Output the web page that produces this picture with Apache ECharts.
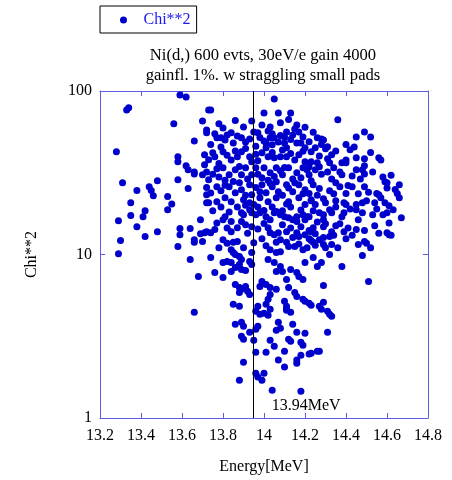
<!DOCTYPE html>
<html><head><meta charset="utf-8">
<script src="https://cdn.jsdelivr.net/npm/echarts@6/dist/echarts.min.js"></script>
<style>html,body{margin:0;padding:0;background:#fff}#c{width:452px;height:480px}</style>
</head><body><div id="c"></div>
<script>
const titleLines = ['Ni(d,) 600 evts, 30eV/e gain 4000', 'gainfl. 1%. w straggling small pads'];
const seriesName = 'Chi**2';
const xName = 'Energy[MeV]';
const yName = 'Chi**2';
const xMin = 13.2, xMax = 14.8, xStep = 0.2;
const yMin = 1, yMax = 100;
const markerEnergy = 13.95;
const markerLabel = '13.94MeV';

// [energy MeV, chi2]
const pointsLeft = [
[13.28,42.5],[13.34,79],[13.33,76.6],[13.29,16.1],[13.29,10.1],[13.30,12.2],[13.31,27.5],[13.35,17.3],[13.35,20.7],[13.38,14.8],
[13.38,24.6],[13.41,17.0],[13.42,18.5],[13.42,12.9],[13.44,26.0],[13.45,24.6],[13.46,22.9],[13.48,28.3],[13.48,13.8],[13.53,22.6],
[13.53,18.8],[13.55,20.4],[13.56,63],[13.58,39.6],[13.58,36.9],[13.58,28.7],[13.59,14.4],[13.59,13.2],[13.58,11.2],[13.59,94.5],
[13.62,92],[13.62,34.9],[13.63,33.0],[13.66,32.0],[13.66,31.1],[13.63,25.3],[13.64,14.4],[13.64,9.32],[13.66,12.3],[13.66,11.9],
[13.66,49.5],[13.66,4.43],[13.68,7.34],[13.70,65.6],[13.73,76.6],[13.72,57.8],[13.72,55.5],[13.71,40.7],[13.72,25.7],[13.72,23.2],
[13.69,13.4],[13.71,13.6],[13.72,13.8],[13.70,12.0],[13.69,16.3],[13.72,20.7]
];
const pointsUpperMid = [
[14.05,89.5],[13.74,76.6],[14.00,73.4],[14.07,73.4],[14.13,73.4],[13.94,65.6],[13.80,59.3],[13.90,60.3],[14.03,60.3],[14.02,57.0],
[14.04,54.7],[14.05,51.7],[14.03,51.7],[14.16,62],[14.15,58.6],[14.17,56.2],[14.14,53.9],[14.11,56.2],[14.19,52.4],[14.10,52.4],
[13.76,54.7],[13.77,51.7],[13.79,51.7],[13.81,50.2],[13.82,53.9],[13.84,55.5],[13.89,51.7],[13.91,48.8],[13.93,50.9],[13.95,56.2],
[13.97,55.5],[14.01,48.1],[14.04,46.9],[14.07,48.8],[14.10,48.1],[14.11,45.0],[14.16,48.1],[14.18,48.1],[14.20,45.0],[14.26,51.7],
[14.23,42.5],[13.75,41.9],[13.76,39.6],[13.80,42.5],[13.84,37.9],[13.87,39.6],[13.89,42.5],[13.93,39.6],[13.94,36.9],[13.99,41.9],
[14.01,45.0],[14.02,39.6],[14.05,39.1],[14.08,39.6],[14.11,39.6],[14.15,37.9],[14.17,40.7],[14.20,36.9],[14.23,36.9],[13.71,35.4],
[13.72,32.0],[13.70,30.7],[13.73,28.7],[13.78,29.8],[13.80,33.9],[13.83,30.7],[13.86,33.0],[13.89,30.7],[13.91,33.9],[13.94,30.7],
[13.96,33.9],[14.00,33.9],[14.03,31.6],[14.06,33.9],[14.09,30.7],[14.12,33.9],[14.16,31.6],[14.19,33.9],[14.22,30.7],[14.25,33.0],
[13.77,26.0],[13.83,26.0],[13.86,23.9],[13.89,24.9],[13.93,26.7],[13.94,23.2],[13.96,25.7],[13.99,26.7],[14.01,23.9],[14.04,26.0],
[14.06,27.9],[14.07,24.2],[14.11,26.7],[14.14,24.2],[14.17,26.7],[14.20,24.9],[14.24,26.7],[13.77,21.0],[13.81,22.2],[13.84,21.0],
[13.90,21.6],[13.93,20.7],[13.98,22.2],[14.02,21.0],[14.06,22.2],[14.12,21.0],[14.17,22.2],[14.23,21.6]
];
const pointsUpperRight = [
[14.36,66.6],[14.45,52.4],[14.49,56.2],[14.52,52.4],[14.28,50.9],[14.29,50.2],[14.25,45.0],[14.31,45.6],[14.30,44.3],[14.42,43.7],
[14.33,40.7],[14.45,39.1],[14.49,38.5],[14.56,39.1],[14.57,37.9],[14.22,34.4],[14.26,36.4],[14.27,34.4],[14.32,36.4],[14.34,33.9],
[14.31,32.0],[14.38,36.4],[14.40,37.9],[14.40,36.4],[14.49,34.9],[14.48,33.0],[14.37,32.0],[14.38,30.7],[14.43,30.2],[14.47,29.0],
[14.49,31.1],[14.58,29.8],[14.59,27.9],[14.60,27.5],[14.66,26.7],[14.23,28.3],[14.27,25.3],[14.37,26.0],[14.41,26.4],[14.43,26.0],
[14.49,26.0],[14.40,23.6],[14.55,23.6],[14.56,23.2],[14.57,22.2],[14.65,23.6],[14.66,22.2],[14.22,23.6],[14.23,21.3],[14.29,21.9],
[14.30,20.7],[14.35,21.3],[14.39,20.7],[14.45,20.2],[14.48,20.7],[14.50,21.3],[14.54,20.7],[14.59,20.7],[14.61,19.9],[14.25,20.2],
[14.40,20.2]
];
const pointsLowerRight = [
[14.27,18.0],[14.29,17.5],[14.32,18.8],[14.33,18.0],[14.39,18.0],[14.38,17.0],[14.45,18.8],[14.53,17.5],[14.58,17.5],[14.60,18.0],
[14.63,18.8],[14.67,16.8],[14.22,17.0],[14.29,16.3],[14.30,15.4],[14.37,15.4],[14.46,16.3],[14.61,15.6],[14.22,14.0],[14.23,13.8],
[14.25,13.4],[14.29,14.8],[14.33,13.8],[14.34,13.1],[14.32,12.9],[14.39,13.8],[14.43,13.1],[14.45,14.2],[14.54,15.0],[14.60,13.6],
[14.61,13.2],[14.62,13.1],[14.22,12.5],[14.23,12.2],[14.29,12.7],[14.29,11.5],[14.30,11.0],[14.33,11.5],[14.25,11.4],[14.49,12.0],
[14.50,11.7],[14.52,11.0],[14.24,9.6],[14.28,8.94],[14.32,10.0],[14.38,8.45],[14.48,9.86],[14.51,6.84],[14.29,6.47],[14.22,5.03],
[14.23,4.89],[14.27,4.82],[14.28,4.62],[14.29,5.10],[14.31,4.49],[14.32,4.31],[14.33,4.19],[14.31,3.35],[14.27,2.56],[14.23,2.49]
];
const pointsCenter = [
[13.73,20.7],[13.95,20.2],[14.11,20.4],[14.20,20.2],[13.77,15.6],[13.80,16.3],[13.81,17.0],[13.84,15.9],[13.89,18.0],[13.90,17.5],
[13.93,18.8],[13.94,18.0],[13.96,17.5],[13.98,18.0],[14.01,17.0],[14.03,16.3],[14.05,18.0],[14.06,18.3],[14.08,17.5],[14.10,17.0],
[14.12,16.8],[14.14,16.3],[14.16,15.9],[14.16,17.0],[14.19,17.5],[14.20,16.3],[14.21,17.0],[13.89,15.9],[13.91,15.2],[13.94,14.8],
[14.02,14.6],[14.03,13.6],[14.05,13.2],[14.07,13.6],[14.11,13.8],[14.16,13.6],[14.17,12.9],[14.20,13.2],[14.24,14.6],[13.74,13.6],
[13.80,12.3],[13.84,13.8],[13.85,11.9],[13.87,12.0],[14.06,11.9],[14.08,12.3],[14.11,11.9],[14.12,11.2],[14.03,10.7],[14.06,10.3],
[14.08,10.4],[14.15,11.2],[14.19,10.7],[14.24,11.9],[13.74,9.6],[13.80,8.94],[13.82,9.06],[13.84,8.94],[13.84,10.7],[13.85,10.3],
[13.86,10.0],[13.88,9.73],[13.89,9.32],[13.94,10.3],[13.93,9.06],[13.94,8.69],[13.88,8.69],[13.89,8.10],[13.91,7.99],[13.84,7.87],
[13.86,8.33],[13.76,7.76],[13.80,7.24],[14.02,9.32],[14.05,8.94],[14.08,8.45],[14.09,7.87],[14.06,7.87],[14.11,7.04],[14.13,8.10],
[14.16,7.76],[14.17,7.34],[14.19,7.04],[14.20,8.94],[14.26,8.45],[13.99,6.84],[13.98,6.38],[14.01,6.56],[14.03,6.29],[14.03,5.70],
[14.02,5.32],[14.06,6.12],[14.12,6.29],[14.15,5.86],[14.16,5.54],[14.19,5.32],[14.20,5.17],[14.10,5.17],[14.11,4.82],[14.11,4.62],
[13.86,6.56],[13.88,6.29],[13.89,6.12],[13.91,6.38],[13.92,5.95],[13.93,5.70],[13.88,5.86],[13.85,4.96],[13.88,4.82],[13.97,4.82],
[13.96,4.49],[14.01,4.96],[14.03,4.62]
];
const pointsBottom = [
[13.98,4.31],[14.00,4.37],[14.02,4.25],[14.11,4.56],[14.13,4.43],[13.86,3.74],[13.89,3.85],[13.90,3.64],[13.97,3.64],[13.96,3.49],
[14.07,3.85],[14.08,3.54],[14.06,3.44],[14.14,3.74],[14.16,3.35],[14.20,3.30],[13.89,3.16],[13.90,3.03],[13.93,3.35],[13.95,2.99],
[14.03,2.99],[14.05,2.75],[14.12,3.03],[14.13,2.95],[14.18,2.91],[14.19,2.79],[13.96,2.52],[14.01,2.52],[14.10,2.56],[14.18,2.42],
[14.22,2.46],[14.26,2.56],[13.90,2.19],[14.07,2.26],[14.16,2.26],[14.16,2.16],[14.10,2.05],[13.96,1.88],[13.97,1.78],[14.00,1.88],
[13.99,1.70],[13.88,1.70],[14.04,1.48],[14.18,1.46]
];
const pointsCoreExtra = [
[13.78,63],[13.86,66],[14.08,64],[14.20,60],[14.24,56],[13.99,62],[14.12,67],
[13.74,47],[13.79,45.5],[13.85,48],[13.87,53],[13.98,52],[14.00,49.5],[14.13,50.5],[14.22,49],[14.28,47],[13.96,46],[14.08,53.5],
[13.73,38],[13.78,36],[13.82,40.5],[13.86,43],[13.91,44.5],[13.96,41],[13.97,37.5],[14.04,42],[14.09,43.5],[14.13,41.5],[14.19,42.8],
[14.27,40],[14.31,38.5],[14.35,43],[14.40,47],[14.44,45.5],[14.52,42],
[13.75,31],[13.77,33.5],[13.81,28.5],[13.85,28],[13.88,34.5],[13.92,29],[13.97,31],[13.99,29.5],[14.02,28.5],[14.05,30],[14.08,32.5],
[14.10,34],[14.14,29],[14.18,29.5],[14.21,33],[14.28,31],[14.33,29],[14.35,27.5],[14.45,33],[14.53,32],[14.62,30.5],[14.64,25],
[13.74,23.8],[13.79,24.5],[13.81,26.5],[13.88,27.5],[13.91,23],[13.98,24.2],[14.03,27.3],[14.09,23],[14.12,25.5],[14.15,27.5],
[14.19,23.5],[14.26,23],[14.32,24.5],[14.34,23.5],[14.46,23.5],[14.51,24],[14.60,25.5],
[13.75,18.5],[13.79,19.5],[13.83,18.2],[13.87,19.5],[13.91,20],[13.97,19.5],[14.00,18.6],[14.04,19.5],[14.09,18.5],[14.13,19.5],
[14.18,18.7],[14.24,18.5],[14.35,19.5],[14.42,19],[14.48,18],[14.55,19],
[13.76,14.2],[13.82,14.5],[13.87,14.6],[13.92,13.5],[13.97,14.3],[14.00,15.5],[14.09,15.2],[14.13,14.5],[14.18,14.8],[14.26,15.8],
[14.35,15],[14.41,14.5],[14.49,14],[14.56,13.5],
[13.78,11],[13.82,11.7],[13.90,11],[13.95,11.8],[13.99,12.5],[14.01,11.3],[14.14,12.7],[14.17,11.6],[14.21,11],[14.27,12.3],
[14.36,11],[14.40,12.5],[14.46,11.5]
];

const allPoints = [].concat(pointsLeft, pointsUpperMid, pointsUpperRight, pointsLowerRight, pointsCenter, pointsBottom, pointsCoreExtra);

const font = '"Liberation Serif", "Times New Roman", serif';
const axisColor = '#5c5ce8';
const fmtX = v => String(parseFloat(v.toFixed(1)));

const chart = echarts.init(document.getElementById('c'), null, {renderer: 'canvas'});
const tickStyle = {inside: true, length: 5, lineStyle: {color: axisColor, width: 1}};
chart.setOption({
  animation: false,
  backgroundColor: '#fff',
  graphic: [{
    type: 'text', x: 263, y: 46,
    style: {text: titleLines.join('\n'), fill: '#000', font: '16.6px ' + font, align: 'center', verticalAlign: 'top', lineHeight: 20}
  }],
  legend: {
    data: [seriesName], left: 100, top: 6, padding: [6, 6, 5, 20],
    itemWidth: 30, itemHeight: 7, icon: 'circle', itemGap: 0,
    borderColor: '#000', borderWidth: 1,
    textStyle: {fontFamily: font, fontSize: 16, color: '#1a1aee'}
  },
  grid: {left: 100, right: 24, top: 91, bottom: 61},
  xAxis: [{
    type: 'value', min: xMin, max: xMax, interval: xStep, position: 'bottom',
    name: xName, nameLocation: 'middle', nameGap: 41,
    nameTextStyle: {fontFamily: font, fontSize: 16, color: '#000'},
    axisLine: {lineStyle: {color: axisColor, width: 1}},
    axisTick: tickStyle,
    axisLabel: {fontFamily: font, fontSize: 16, color: '#000', margin: 10, formatter: fmtX},
    splitLine: {show: false}
  }, {
    type: 'value', min: xMin, max: xMax, interval: xStep, position: 'top',
    axisLine: {lineStyle: {color: axisColor, width: 1}},
    axisTick: tickStyle, axisLabel: {show: false}, splitLine: {show: false}
  }],
  yAxis: [{
    type: 'log', logBase: 10, min: yMin, max: yMax, position: 'left',
    name: yName, nameLocation: 'middle', nameGap: 60,
    nameTextStyle: {fontFamily: font, fontSize: 16, color: '#000'},
    axisLine: {show: true, lineStyle: {color: axisColor, width: 1}},
    axisTick: tickStyle, minorTick: {show: false},
    axisLabel: {fontFamily: font, fontSize: 16, color: '#000', margin: 8},
    splitLine: {show: false}
  }, {
    type: 'log', logBase: 10, min: yMin, max: yMax, position: 'right',
    axisLine: {show: true, lineStyle: {color: axisColor, width: 1}},
    axisTick: tickStyle, axisLabel: {show: false}, splitLine: {show: false}
  }],
  series: [{
    type: 'scatter', name: seriesName, data: allPoints,
    symbol: 'circle', symbolSize: 7,
    itemStyle: {color: '#0000cc', opacity: 1},
    markLine: {
      silent: true, symbol: ['none', 'none'], animation: false,
      lineStyle: {color: '#000', width: 1, type: 'solid'},
      label: {show: false},
      data: [{xAxis: markerEnergy}]
    },
    markPoint: {
      silent: true, symbol: 'circle', symbolSize: 0, animation: false,
      data: [{coord: [markerEnergy, yMin]}],
      label: {show: true, position: 'right', distance: 5, offset: [13, -12],
        formatter: markerLabel, fontFamily: font, fontSize: 16, color: '#000'}
    }
  }]
});
</script></body></html>
